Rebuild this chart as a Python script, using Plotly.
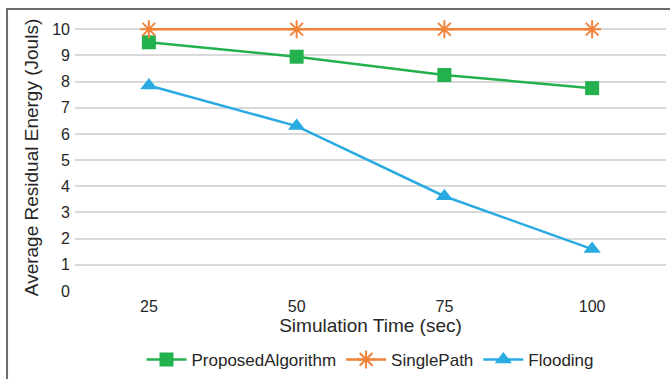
import plotly.graph_objects as go

# Simulation time points (seconds)
sim_time = ["25", "50", "75", "100"]

# Average residual energy (Jouls) per routing approach
proposed_algorithm = [9.5, 8.95, 8.25, 7.75]
single_path = [10.0, 10.0, 10.0, 10.0]
flooding = [7.85, 6.3, 3.62, 1.6]

y_ticks = list(range(0, 11))

FONT = "Liberation Sans, Arial, sans-serif"
TEXT = "#262626"

fig = go.Figure()

fig.add_trace(go.Scatter(
    x=sim_time, y=proposed_algorithm, name="ProposedAlgorithm",
    mode="lines+markers", cliponaxis=False,
    line=dict(color="#22B14C", width=2.5),
    marker=dict(symbol="square", size=14, color="#22B14C"),
))
fig.add_trace(go.Scatter(
    x=sim_time, y=single_path, name="SinglePath",
    mode="lines+markers", cliponaxis=False,
    line=dict(color="#F0833A", width=2.5),
    marker=dict(symbol="asterisk-open", size=15,
                line=dict(color="#F0833A", width=2)),
))
fig.add_trace(go.Scatter(
    x=sim_time, y=flooding, name="Flooding",
    mode="lines+markers", cliponaxis=False,
    line=dict(color="#29ABE2", width=2.5),
    marker=dict(symbol="triangle-up", size=15, color="#29ABE2"),
))

# outer chart frame
fig.add_shape(type="rect", xref="paper", yref="paper",
              x0=-0.115, x1=1.02, y0=-0.35, y1=1.056,
              line=dict(color="#6b6b6b", width=2), layer="below")

fig.update_layout(
    width=670, height=379,
    margin=dict(l=75, r=4, t=24, b=88, autoexpand=False),
    paper_bgcolor="white", plot_bgcolor="white",
    font=dict(family=FONT, color=TEXT, size=16),
    showlegend=True,
    legend=dict(orientation="h", x=0.5, xanchor="center",
                y=-0.258, yanchor="middle",
                font=dict(size=17, color=TEXT),
                itemwidth=40, tracegroupgap=0),
    xaxis=dict(
        type="category", range=[-0.5, 3.5], automargin=False,
        showgrid=False, zeroline=False, showline=False,
        ticks="", tickfont=dict(size=16, color=TEXT), ticklabelstandoff=4,
        title=dict(text="Simulation Time (sec)", font=dict(size=19, color=TEXT),
                   standoff=4),
    ),
    yaxis=dict(
        range=[0, 10.2], tickvals=y_ticks, showgrid=True, automargin=False,
        gridcolor="#d9d9d9", gridwidth=1.5, zeroline=False, showline=False,
        ticks="", tickfont=dict(size=16, color=TEXT), ticklabelstandoff=4,
        title=dict(text="Average Residual Energy (Jouls)",
                   font=dict(size=19, color=TEXT), standoff=8),
    ),
)

fig.write_html("out.html")
